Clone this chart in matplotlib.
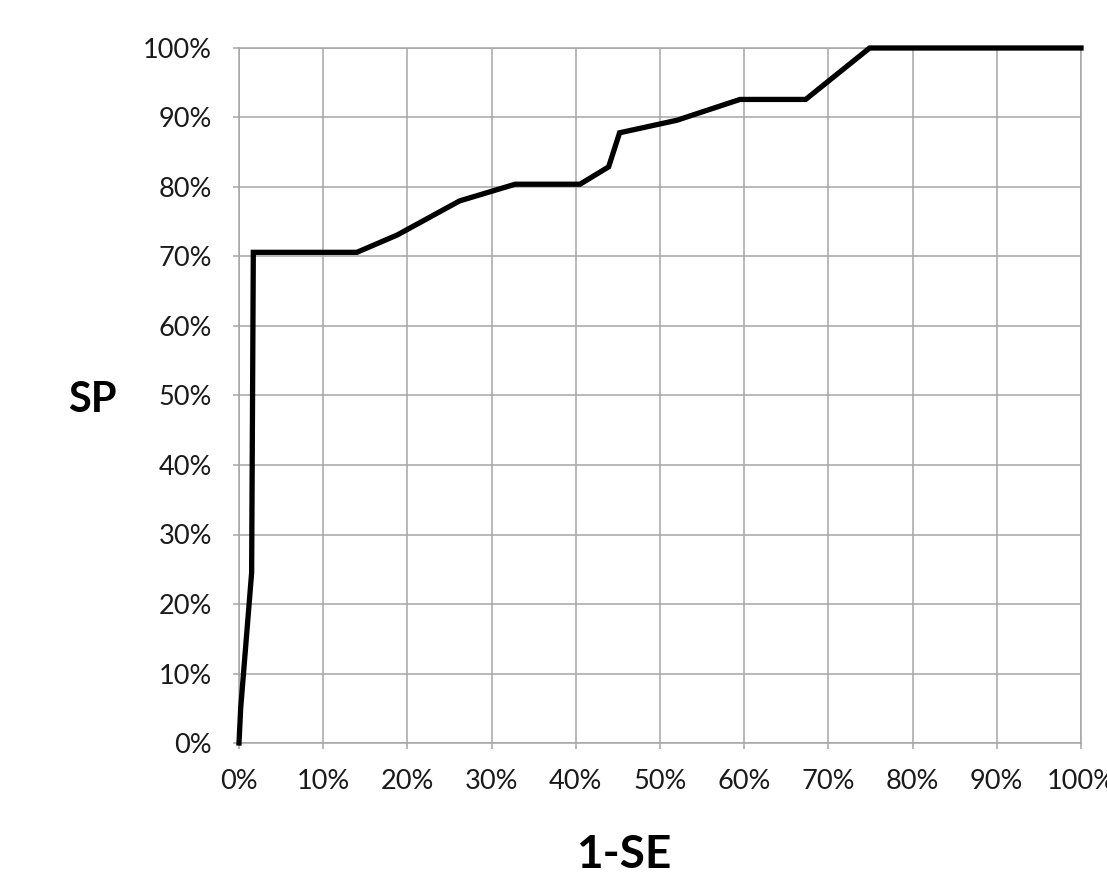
import matplotlib
matplotlib.use("Agg")
import matplotlib.pyplot as plt
from matplotlib.ticker import PercentFormatter, MultipleLocator

# ROC-like curve data (percent)
one_minus_se = [0.0, 0.2, 1.5, 1.7, 14.0, 18.8, 26.2, 32.8, 40.5, 43.9, 45.2, 52.0, 59.5, 67.3, 74.9, 100.0]
sp =           [0.0, 5.0, 24.5, 70.6, 70.6, 73.1, 78.0, 80.4, 80.4, 82.9, 87.8, 89.6, 92.6, 92.6, 100.0, 100.0]

x_label = "1-SE"
y_label = "SP"

plt.rcParams['font.family'] = ['Lato', 'DejaVu Sans']

fig = plt.figure(figsize=(11.07, 8.74), dpi=100)
ax = fig.add_axes([239/1107, 1-743/874, (1081-239)/1107, (743-48)/874])

ax.plot(one_minus_se, sp, color='black', lw=3.8, solid_joinstyle='miter', zorder=3, clip_on=False)

ax.set_xlim(0, 100)
ax.set_ylim(0, 100)
ax.xaxis.set_major_locator(MultipleLocator(10))
ax.yaxis.set_major_locator(MultipleLocator(10))
ax.xaxis.set_major_formatter(PercentFormatter(decimals=0))
ax.yaxis.set_major_formatter(PercentFormatter(decimals=0))
ax.grid(True, color='#a6a6a6', lw=1.1)
ax.set_axisbelow(True)
for s in ax.spines.values():
    s.set_color('#a6a6a6')
    s.set_linewidth(1.1)
ax.tick_params(axis='both', colors='#a6a6a6', labelcolor='#1a1a1a', length=4.5, width=1.1, labelsize=19.5)
ax.tick_params(axis='y', pad=15)
ax.tick_params(axis='x', pad=14)

fig.text(92/1107, 1-400/874, y_label, fontsize=30, fontweight='bold', ha='center', va='center')
fig.text(624/1107, 1-855/874, x_label, fontsize=33, fontweight='bold', ha='center', va='center')

fig.savefig("out.png", dpi=100)
